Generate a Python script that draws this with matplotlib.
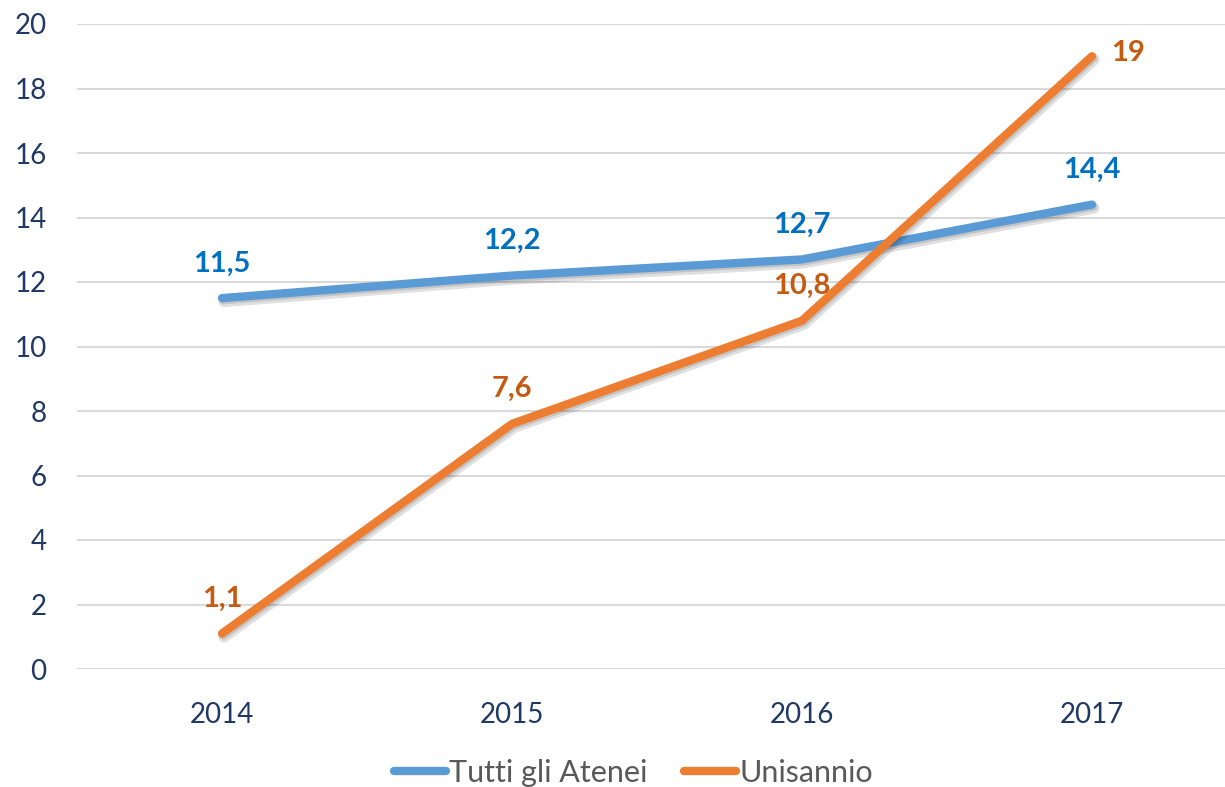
import matplotlib
matplotlib.use("Agg")
import matplotlib.pyplot as plt
import matplotlib.patheffects as pe

years = ["2014", "2015", "2016", "2017"]
tutti = [11.5, 12.2, 12.7, 14.4]
unisannio = [1.1, 7.6, 10.8, 19]
tutti_labels = ["11,5", "12,2", "12,7", "14,4"]
uni_labels = ["1,1", "7,6", "10,8", "19"]
yticks = [0, 2, 4, 6, 8, 10, 12, 14, 16, 18, 20]

plt.rcParams['font.family'] = ['Lato', 'DejaVu Sans']

fig = plt.figure(figsize=(12.25, 7.87), dpi=100)
ax = fig.add_axes([77/1225, 118/787, 1160/1225, 645/787])

x = list(range(len(years)))
shadow = [pe.SimpleLineShadow(offset=(1.5, -2.5), shadow_color='black', alpha=0.12, linewidth=8),
          pe.SimpleLineShadow(offset=(1, -1.5), shadow_color='black', alpha=0.12),
          pe.Normal()]
l1, = ax.plot(x, tutti, color='#5B9BD5', lw=6, solid_capstyle='round', solid_joinstyle='round',
              path_effects=shadow, label='Tutti gli Atenei', zorder=3)
l2, = ax.plot(x, unisannio, color='#ED7D31', lw=6, solid_capstyle='round', solid_joinstyle='round',
              path_effects=shadow, label='Unisannio', zorder=4)

for xi, v, t in zip(x, tutti, tutti_labels):
    ax.annotate(t, (xi, v), xytext=(0, 25), textcoords='offset points', ha='center', va='center',
                color='#0070C0', fontsize=21, fontweight='bold', zorder=5)
for i, (xi, v, t) in enumerate(zip(x, unisannio, uni_labels)):
    if i == len(x) - 1:
        ax.annotate(t, (xi, v), xytext=(14, 2), textcoords='offset points', ha='left', va='center',
                    color='#C55A11', fontsize=21, fontweight='bold', zorder=5)
    else:
        ax.annotate(t, (xi, v), xytext=(0, 25), textcoords='offset points', ha='center', va='center',
                    color='#C55A11', fontsize=21, fontweight='bold', zorder=5)

ax.set_xlim(-0.5, 3.5)
ax.set_ylim(0, 20)
ax.set_xticks(x)
ax.set_xticklabels(years)
ax.set_yticks(yticks)
ax.set_yticklabels([str(v) for v in yticks])
ax.tick_params(axis='both', length=0, labelsize=20, labelcolor='#1F3864')
ax.tick_params(axis='y', pad=22)
ax.tick_params(axis='x', pad=24)
ax.grid(axis='y', color='#D9D9D9', lw=1.5)
ax.set_axisbelow(True)
for s in ax.spines.values():
    s.set_visible(False)

leg = fig.legend(handles=[l1, l2], loc='center', bbox_to_anchor=(0.517, 0.018), ncol=2,
                 frameon=False, fontsize=22, handlelength=1.7, handletextpad=0.1, columnspacing=1.2)
for t in leg.get_texts():
    t.set_color('#595959')
for h in leg.legend_handles:
    h.set_path_effects([])

fig.savefig("out.png", dpi=100)
